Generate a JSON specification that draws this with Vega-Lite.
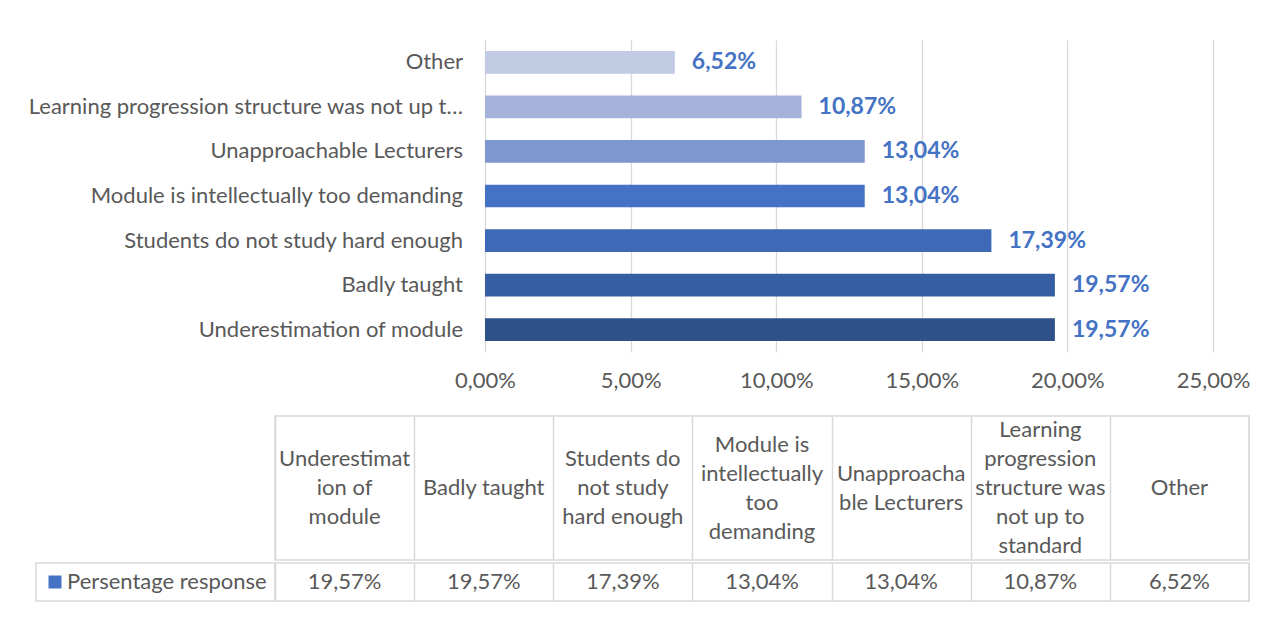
{
  "$schema": "https://vega.github.io/schema/vega-lite/v6.json",
  "padding": {"left": 28, "top": 40, "right": 0, "bottom": 0},
  "background": "white",
  "data": {"values": [
    {"reason": "Underestimation of module", "header": "Underestimat\nion of\nmodule", "pct": 0.1957},
    {"reason": "Badly taught", "header": "Badly taught", "pct": 0.1957},
    {"reason": "Students do not study hard enough", "header": "Students do\nnot study\nhard enough", "pct": 0.1739},
    {"reason": "Module is intellectually too demanding", "header": "Module is\nintellectually\ntoo\ndemanding", "pct": 0.1304},
    {"reason": "Unapproachable Lecturers", "header": "Unapproacha\nble Lecturers", "pct": 0.1304},
    {"reason": "Learning progression structure was not up to standard", "header": "Learning\nprogression\nstructure was\nnot up to\nstandard", "pct": 0.1087},
    {"reason": "Other", "header": "Other", "pct": 0.0652}
  ]},
  "spacing": 24,
  "resolve": {"scale": {"color": "independent"}, "legend": {"color": "independent"}},
  "vconcat": [
    {
      "width": 974,
      "height": 312,
      "view": {"stroke": null},
      "encoding": {
        "y": {"field": "reason", "type": "nominal", "axis": null,
              "sort": ["Other", "Learning progression structure was not up to standard", "Unapproachable Lecturers", "Module is intellectually too demanding", "Students do not study hard enough", "Badly taught", "Underestimation of module"],
              "scale": {"paddingInner": 0.49, "paddingOuter": 0.245}}
      },
      "layer": [
        {
          "mark": {"type": "bar"},
          "encoding": {
            "x": {"field": "pct", "type": "quantitative", "title": null,
                  "scale": {"domain": [-0.07212, 0.26236], "nice": false, "zero": false},
                  "axis": {"values": [0, 0.05, 0.1, 0.15, 0.2, 0.25], "format": ".2%", "grid": true, "gridColor": "#D9D9D9", "gridWidth": 1.3, "domain": false, "ticks": false, "labelColor": "#595959", "labelFontSize": 22, "labelPadding": 18}},
            "color": {"field": "reason", "type": "nominal", "legend": null,
                      "scale": {"domain": ["Underestimation of module", "Badly taught", "Students do not study hard enough", "Module is intellectually too demanding", "Unapproachable Lecturers", "Learning progression structure was not up to standard", "Other"],
                                "range": ["#2F5189", "#365EA2", "#3D69B6", "#4472C4", "#7F97CF", "#A5B3DA", "#C1CBE4"]}}
          }
        },
        {
          "mark": {"type": "text", "align": "left", "baseline": "middle", "dx": 17, "fontSize": 23, "fontWeight": "bold", "color": "#4472C4"},
          "encoding": {
            "x": {"field": "pct", "type": "quantitative"},
            "text": {"field": "pct", "type": "quantitative", "format": ".2%"}
          }
        },
        {
          "mark": {"type": "text", "align": "right", "baseline": "middle", "dx": -22, "fontSize": 22, "color": "#595959", "limit": 440, "ellipsis": "…"},
          "encoding": {
            "x": {"datum": 0, "type": "quantitative"},
            "text": {"field": "reason", "type": "nominal"}
          }
        }
      ]
    },
    {
      "spacing": 0,
      "resolve": {"scale": {"color": "independent"}, "legend": {"color": "independent"}},
      "vconcat": [
        {
          "width": 974,
          "height": 144,
          "view": {"stroke": "#D9D9D9", "strokeWidth": 1.5},
          "encoding": {
            "x": {"field": "reason", "type": "nominal", "title": null,
                  "sort": ["Underestimation of module", "Badly taught", "Students do not study hard enough", "Module is intellectually too demanding", "Unapproachable Lecturers", "Learning progression structure was not up to standard", "Other"],
                  "scale": {"paddingInner": 0, "paddingOuter": 0},
                  "axis": {"labels": false, "ticks": false, "domain": false, "grid": true, "tickBand": "extent", "gridColor": "#D9D9D9", "gridWidth": 1.5}},
            "text": {"field": "header", "type": "nominal"}
          },
          "layer": [
            {
              "transform": [{"filter": "length(split(datum.header, '\\n')) == 1"}],
              "mark": {"type": "text", "align": "center", "baseline": "middle", "fontSize": 22, "lineHeight": 29, "lineBreak": "\n", "color": "#595959", "dy": 0}
            },
            {
              "transform": [{"filter": "length(split(datum.header, '\\n')) == 2"}],
              "mark": {"type": "text", "align": "center", "baseline": "middle", "fontSize": 22, "lineHeight": 29, "lineBreak": "\n", "color": "#595959", "dy": -14.5}
            },
            {
              "transform": [{"filter": "length(split(datum.header, '\\n')) == 3"}],
              "mark": {"type": "text", "align": "center", "baseline": "middle", "fontSize": 22, "lineHeight": 29, "lineBreak": "\n", "color": "#595959", "dy": -29}
            },
            {
              "transform": [{"filter": "length(split(datum.header, '\\n')) == 4"}],
              "mark": {"type": "text", "align": "center", "baseline": "middle", "fontSize": 22, "lineHeight": 29, "lineBreak": "\n", "color": "#595959", "dy": -43.5}
            },
            {
              "transform": [{"filter": "length(split(datum.header, '\\n')) == 5"}],
              "mark": {"type": "text", "align": "center", "baseline": "middle", "fontSize": 22, "lineHeight": 29, "lineBreak": "\n", "color": "#595959", "dy": -58}
            }
          ]
        },
        {
          "width": 974,
          "height": 38,
          "view": {"stroke": "#D9D9D9", "strokeWidth": 1.5},
          "encoding": {
            "x": {"field": "reason", "type": "nominal", "title": null,
                  "sort": ["Underestimation of module", "Badly taught", "Students do not study hard enough", "Module is intellectually too demanding", "Unapproachable Lecturers", "Learning progression structure was not up to standard", "Other"],
                  "scale": {"paddingInner": 0, "paddingOuter": 0},
                  "axis": {"labels": false, "ticks": false, "domain": false, "grid": true, "tickBand": "extent", "gridColor": "#D9D9D9", "gridWidth": 1.5}}
          },
          "layer": [
            {
              "mark": {"type": "text", "align": "center", "baseline": "middle", "fontSize": 22, "color": "#595959"},
              "encoding": {
                "text": {"field": "pct", "type": "quantitative", "format": ".2%"}
              }
            },
            {
              "mark": {"type": "square", "size": 0, "filled": true, "opacity": 1},
              "encoding": {
                "color": {"datum": "Persentage response", "type": "nominal",
                          "scale": {"range": ["#4472C4"]},
                          "legend": {"orient": "left", "title": null, "symbolType": "square", "symbolSize": 169, "symbolOpacity": 1, "strokeColor": "#D9D9D9", "padding": 8, "offset": 0, "labelFontSize": 22, "labelColor": "#595959", "labelOffset": 1, "labelLimit": 300,
                                     "encode": {"legend": {"update": {"strokeWidth": {"value": 1.5}}}}}}
              }
            }
          ]
        }
      ]
    }
  ],
  "config": {
    "font": "Lato",
    "locale": {"number": {"decimal": ",", "thousands": ".", "grouping": [3], "currency": ["", " €"]}}
  }
}
